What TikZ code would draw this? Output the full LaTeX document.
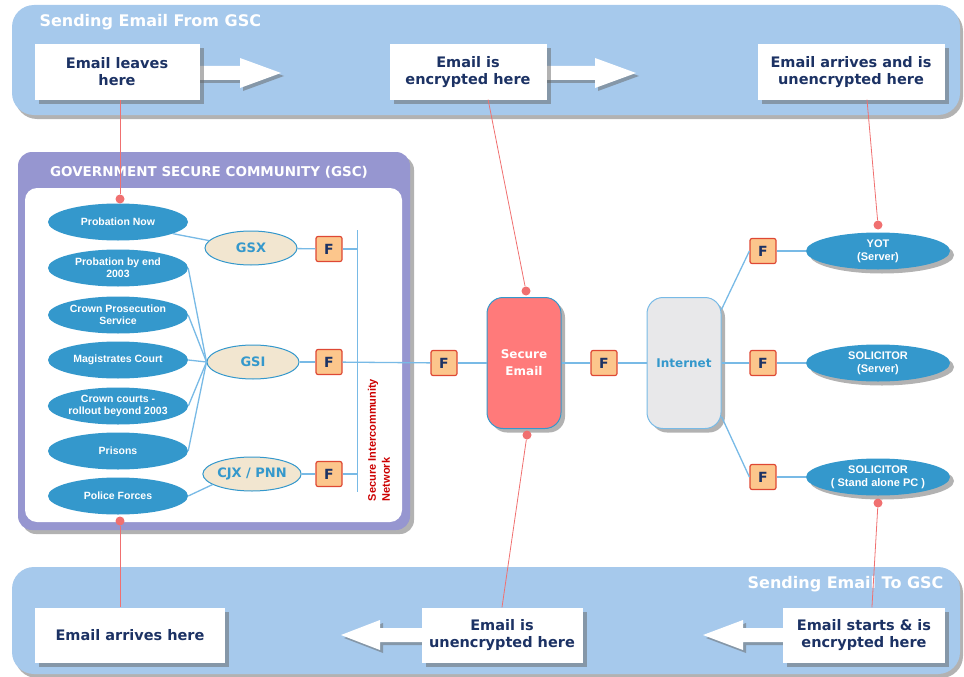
\documentclass[tikz,border=0pt]{standalone}
\usepackage{fontspec}
\setmainfont{DejaVu Sans}
\newfontfamily\narrowfont{Liberation Sans}
\usetikzlibrary{shapes.geometric,shadows,positioning}

\definecolor{bandblue}{RGB}{166,201,236}
\definecolor{boxnavy}{RGB}{28,50,100}
\definecolor{ovalblue}{RGB}{52,152,204}
\definecolor{gscpurple}{RGB}{150,150,208}
\definecolor{fwfill}{RGB}{252,198,140}
\definecolor{fwedge}{RGB}{222,72,52}
\definecolor{wireblue}{RGB}{120,186,230}
\definecolor{tagpink}{RGB}{240,112,112}
\definecolor{gatefill}{RGB}{242,230,208}
\definecolor{securered}{RGB}{255,122,122}
\definecolor{netgrey}{RGB}{232,232,234}

\tikzset{
  infobox/.style={fill=white, text=boxnavy, font=\fontsize{14.5}{17}\selectfont\bfseries, align=center,
    minimum height=55pt, inner sep=2pt, drop shadow={shadow xshift=4pt, shadow yshift=-4pt, fill=black!60}},
  site/.style={ellipse, fill=ovalblue, text=white, font=\narrowfont\fontsize{10.5}{12}\selectfont\bfseries,
    align=center, minimum width=140pt, minimum height=37pt, inner sep=0pt},
  gate/.style={ellipse, fill=gatefill, draw=ovalblue, line width=1pt, text=ovalblue,
    font=\fontsize{13}{15}\selectfont\bfseries, minimum width=92pt, minimum height=34pt, inner sep=0pt},
  firewall/.style={rectangle, rounded corners=2pt, fill=fwfill, draw=fwedge, line width=1.2pt, text=boxnavy,
    font=\fontsize{14}{14}\selectfont\bfseries, minimum width=26pt, minimum height=25pt, inner sep=0pt},
  hub/.style={rectangle, rounded corners=16pt, minimum width=74pt, minimum height=131pt, line width=1pt,
    align=center, font=\fontsize{12}{17}\selectfont\bfseries,
    drop shadow={shadow xshift=4pt, shadow yshift=-4pt, fill=black!60}},
  wire/.style={wireblue, line width=1.3pt},
  tag/.style={tagpink, line width=0.8pt},
  tagdot/.style={circle, fill=tagpink, inner sep=0pt, minimum size=9pt},
  blockarrow/.style={fill=white, drop shadow={shadow xshift=3pt, shadow yshift=-3pt, fill=black!60}},
  bandtitle/.style={font=\fontsize{16}{18}\selectfont\bfseries, text=white}
}

\begin{document}
\begin{tikzpicture}[x=1pt,y=-1pt]
\useasboundingbox (0,0) rectangle (964,677);

% the two bands
\fill[bandblue, rounded corners=22pt, drop shadow={shadow xshift=3pt, shadow yshift=-4pt, fill=black!60}] (12,5) rectangle (960,115);
\fill[bandblue, rounded corners=22pt, drop shadow={shadow xshift=3pt, shadow yshift=-4pt, fill=black!60}] (12,567) rectangle (960,674);
\node[bandtitle, anchor=west] (fromtitle) at (36,22) {Sending Email From GSC};
\node[bandtitle, anchor=east] (totitle) at (947,584) {Sending Email To GSC};

% block arrows
\path[blockarrow] (192,66) -- (240,66) -- (240,58) -- (281,73) -- (240,88) -- (240,80) -- (192,80) -- cycle;
\path[blockarrow] (540,66) -- (595,66) -- (595,58) -- (636,73) -- (595,88) -- (595,80) -- (540,80) -- cycle;
\path[blockarrow] (430,628) -- (380,628) -- (380,620) -- (341,635) -- (380,650) -- (380,642) -- (430,642) -- cycle;
\path[blockarrow] (790,628) -- (743,628) -- (743,620) -- (703,635) -- (743,650) -- (743,642) -- (790,642) -- cycle;

\node[infobox, minimum width=165pt] (leave) at (117,72) {Email leaves\\here};
\node[infobox, minimum width=157pt] (encrypt) at (468,72) {Email is\\encrypted here};
\node[infobox, minimum width=187pt] (arrive) at (851,72) {Email arrives and is\\unencrypted here};
\node[infobox, minimum width=190pt] (landed) at (130,635) {Email arrives here};
\node[infobox, minimum width=161pt] (decrypt) at (502,635) {Email is\\unencrypted here};
\node[infobox, minimum width=162pt] (origin) at (864,635) {Email starts \& is\\encrypted here};

% GSC frame
\fill[gscpurple, rounded corners=14pt, drop shadow={shadow xshift=4pt, shadow yshift=-4pt, fill=black!60}] (18,152) rectangle (410,530);
\fill[white, rounded corners=12pt] (25,188) rectangle (402,522);
\node[font=\fontsize{13.5}{15}\selectfont\bfseries, text=white] (gsctitle) at (209,172) {GOVERNMENT SECURE COMMUNITY (GSC)};

\node[site] (pnow) at (118,222) {Probation Now};
\node[site] (pend) at (118,268) {Probation by end\\2003};
\node[site] (cps) at (118,315) {Crown Prosecution\\Service};
\node[site] (mags) at (118,360) {Magistrates Court};
\node[site] (crown) at (118,406) {Crown courts -\\rollout beyond 2003};
\node[site] (prisons) at (118,451) {Prisons};
\node[site] (police) at (118,496) {Police Forces};

\node[gate] (gsx) at (251,248) {GSX};
\node[gate] (gsi) at (253,362) {GSI};
\node[gate] (cjx) at (252,474) {CJX / PNN};

\node[firewall] (fgsx) at (329,249) {F};
\node[firewall] (fgsi) at (329,362) {F};
\node[firewall] (fcjx) at (329,474) {F};

\coordinate (bustop) at (357,230);
\coordinate (busbot) at (357,492);
\draw[wire, line width=1pt] (bustop) -- (busbot);
\node[rotate=90, text=red!80!black, font=\narrowfont\fontsize{11}{14}\selectfont\bfseries, align=left] (sinlabel) at (379,440) {Secure Intercommunity\\Network};

% middle and right
\node[firewall] (fin) at (444,363) {F};
\node[hub, fill=securered, draw=ovalblue, text=white] (secure) at (524,363) {Secure\\Email};
\node[firewall] (fmid) at (604,363) {F};
\node[hub, fill=netgrey, draw=wireblue, text=ovalblue] (internet) at (684,363) {Internet};

\node[firewall] (fyot) at (763,251) {F};
\node[firewall] (fsol) at (763,363) {F};
\node[firewall] (fpc) at (763,477) {F};
\node[site, minimum width=144pt, font=\narrowfont\fontsize{11}{13}\selectfont\bfseries, drop shadow={shadow xshift=4pt, shadow yshift=-4pt, fill=black!60}] (yot) at (878,251) {YOT\\(Server)};
\node[site, minimum width=144pt, font=\narrowfont\fontsize{11}{13}\selectfont\bfseries, drop shadow={shadow xshift=4pt, shadow yshift=-4pt, fill=black!60}] (solsrv) at (878,363) {SOLICITOR\\(Server)};
\node[site, minimum width=144pt, font=\narrowfont\fontsize{11}{13}\selectfont\bfseries, drop shadow={shadow xshift=4pt, shadow yshift=-4pt, fill=black!60}] (solpc) at (878,477) {SOLICITOR\\( Stand alone PC )};

% wires
\draw[wire] (pnow.-12) -- (gsx.170);
\foreach \s in {pend,cps,mags,crown,prisons}
  \draw[wire] (\s.east) -- (gsi.west);
\draw[wire] (police.east) -- (cjx.195);
\draw[wire] (gsx) -- (fgsx);
\draw[wire] (gsi) -- (fgsi);
\draw[wire] (cjx) -- (fcjx);
\draw[wire] (fgsx.east) -- (fgsx.east -| bustop);
\draw[wire] (fcjx.east) -- (fcjx.east -| bustop);
\draw[wire] (fgsi) -- (fin);
\draw[wire] (fin) -- (secure);
\draw[wire] (secure) -- (fmid);
\draw[wire] (fmid) -- (internet);
\draw[wire] (internet.55) -- (fyot.west);
\draw[wire] (internet) -- (fsol);
\draw[wire] (internet.-55) -- (fpc.west);
\draw[wire] (fyot) -- (yot);
\draw[wire] (fsol) -- (solsrv);
\draw[wire] (fpc) -- (solpc);

% pink pointers
\node[tagdot] (dleave) at (120,199) {};
\draw[tag] (dleave) -- (dleave |- leave.south);
\node[tagdot] (dsecure) at (526,291) {};
\draw[tag] (encrypt.-54) -- (dsecure);
\node[tagdot] (dyot) at (878,225) {};
\draw[tag] (arrive.-60) -- (dyot);
\node[tagdot] (dpolice) at (120,521) {};
\draw[tag] (dpolice) -- (dpolice |- landed.north);
\node[tagdot] (dsecout) at (527,435) {};
\draw[tag] (dsecout) -- (decrypt.north);
\node[tagdot] (dpc) at (878,503) {};
\draw[tag] (dpc) -- (origin.74);
\end{tikzpicture}
\end{document}
